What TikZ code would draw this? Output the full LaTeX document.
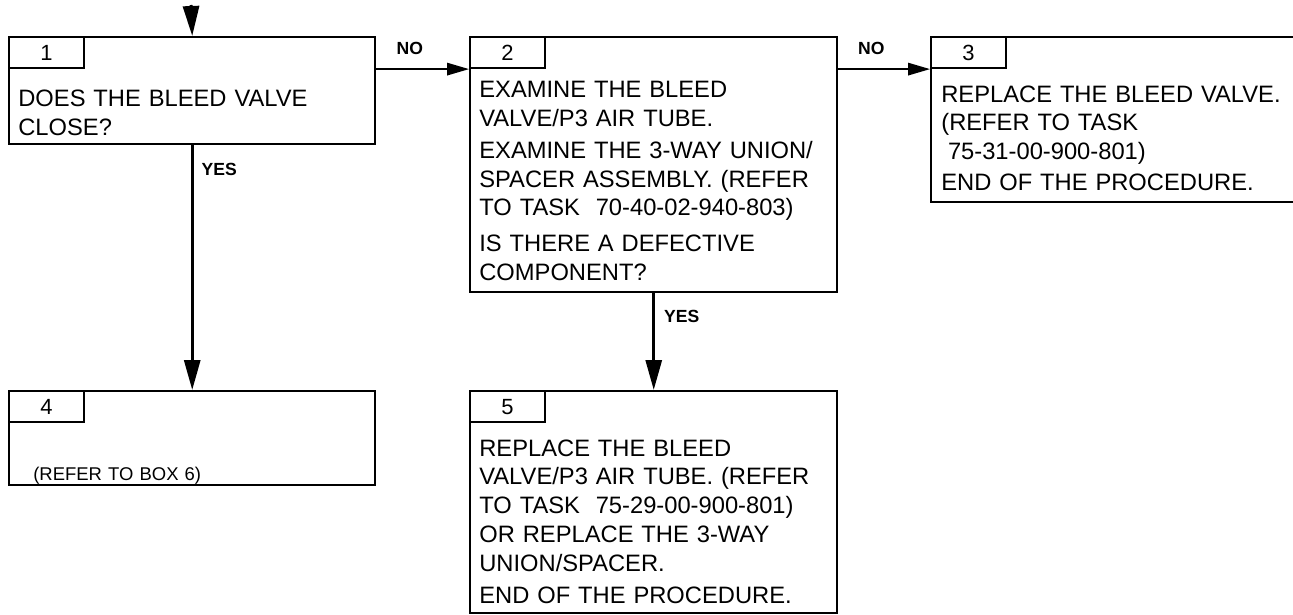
\documentclass[tikz,border=0pt]{standalone}
\usepackage{fontspec}
\setmainfont{Liberation Sans}
\usetikzlibrary{arrows.meta}

\tikzset{
  box/.style={draw, line width=1.4pt, anchor=north west, inner sep=0pt},
  tab/.style={draw, line width=1.2pt, anchor=north west, minimum width=1.5cm,
    minimum height=0.62cm, inner sep=0pt, font=\fontsize{12.5}{14}\selectfont},
  txt/.style={anchor=base west, inner sep=0pt, text width=7cm, align=left,
    font=\fontsize{13.5}{16.4}\selectfont},
  lbl/.style={font=\fontsize{10}{12}\selectfont\bfseries, inner sep=0pt},
  vflow/.style={line width=1.7pt, -{Triangle[length=0.6cm, width=0.32cm]}},
  hflow/.style={line width=0.9pt, -{Triangle[length=0.44cm, width=0.25cm]}},
}

\begin{document}
\begin{tikzpicture}
  \useasboundingbox (0,0) rectangle (25.86,-12.30);

  % boxes
  \node[box, minimum width=7.32cm, minimum height=2.14cm] (b1) at (0.16,-0.72) {};
  \node[box, minimum width=7.34cm, minimum height=5.10cm] (b2) at (9.38,-0.72) {};
  \node[box, minimum width=7.40cm, minimum height=3.30cm] (b3) at (18.60,-0.72) {};
  \node[box, minimum width=7.32cm, minimum height=1.88cm] (b4) at (0.16,-7.80) {};
  \node[box, minimum width=7.34cm, minimum height=4.44cm] (b5) at (9.38,-7.80) {};

  % number tabs
  \node[tab] (t1) at (b1.north west) {1};
  \node[tab] (t2) at (b2.north west) {2};
  \node[tab] (t3) at (b3.north west) {3};
  \node[tab] (t4) at (b4.north west) {4};
  \node[tab] (t5) at (b5.north west) {5};

  % box texts
  \node[txt] (q1) at ([xshift=0.2cm, yshift=-1.42cm]b1.north west)
    {DOES THE BLEED VALVE\\ CLOSE?};
  \node[txt] (q2) at ([xshift=0.2cm, yshift=-1.24cm]b2.north west)
    {EXAMINE THE BLEED\\ VALVE/P3 AIR TUBE.\\[1.5pt]
     EXAMINE THE 3-WAY UNION/\\ SPACER ASSEMBLY. (REFER\\ TO TASK\ \ 70-40-02-940-803)\\[4pt]
     IS THERE A DEFECTIVE\\ COMPONENT?};
  \node[txt] (q3) at ([xshift=0.22cm, yshift=-1.32cm]b3.north west)
    {REPLACE THE BLEED VALVE.\\ (REFER TO TASK\\ \hspace*{0.28em}75-31-00-900-801)\\[1pt]
     END OF THE PROCEDURE.};
  \node[txt, font=\fontsize{10.5}{13}\selectfont] (q4) at ([xshift=0.5cm, yshift=-1.80cm]b4.north west)
    {(REFER TO BOX 6)};
  \node[txt] (q5) at ([xshift=0.2cm, yshift=-1.32cm]b5.north west)
    {REPLACE THE BLEED\\ VALVE/P3 AIR TUBE. (REFER\\ TO TASK\ \ 75-29-00-900-801)\\
     OR REPLACE THE 3-WAY\\ UNION/SPACER.\\[2pt] END OF THE PROCEDURE.};

  % connectors
  \coordinate (entry) at (3.82,-0.10);
  \draw[vflow] (entry) -- (b1.north);
  \draw[hflow] (b1.east |- t1.south) -- node[lbl, pos=0.36, above=0.28cm] (no1) {NO} (b2.west |- t1.south);
  \draw[hflow] (b2.east |- t2.south) -- node[lbl, pos=0.36, above=0.28cm] (no2) {NO} (b3.west |- t2.south);
  \draw[vflow] (b1.south) -- node[lbl, pos=0.1, right=0.16cm] (yes1) {YES} (b4.north);
  \draw[vflow] (b2.south) -- node[lbl, pos=0.24, right=0.18cm] (yes2) {YES} (b5.north);
\end{tikzpicture}
\end{document}
